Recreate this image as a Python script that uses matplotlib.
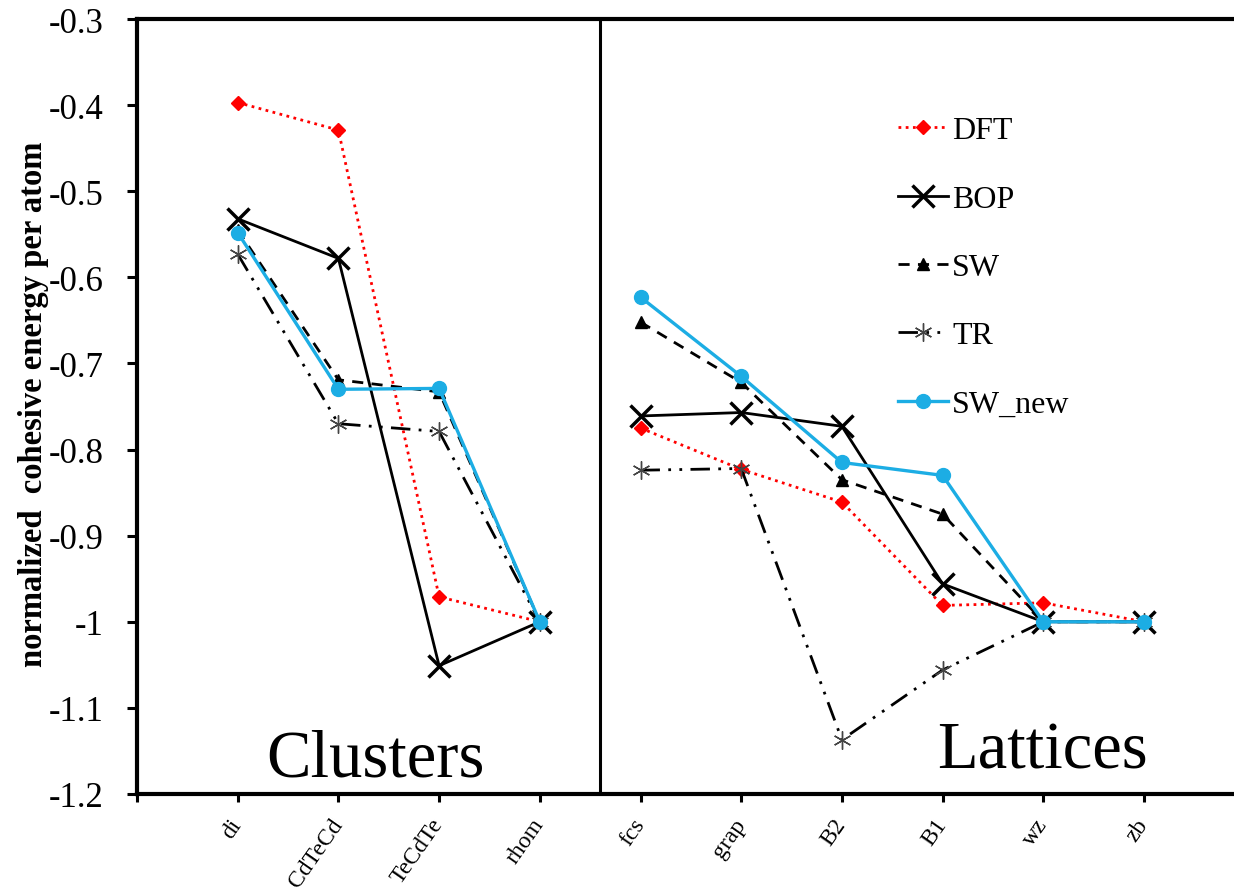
import numpy as np
import matplotlib
matplotlib.use("Agg")
import matplotlib.pyplot as plt
from matplotlib.ticker import FixedLocator, FormatStrFormatter
from matplotlib.transforms import ScaledTranslation

plt.rcParams['font.family'] = ['Liberation Serif', 'DejaVu Serif']

categories = ['di', 'CdTeCd', 'TeCdTe', 'rhom', 'fcs', 'grap', 'B2', 'B1', 'wz', 'zb']
n_clusters = 4
DFT = [-0.397, -0.429, -0.971, -1.0, -0.775, -0.823, -0.861, -0.981, -0.978, -1.0]
BOP = [-0.532, -0.578, -1.051, -1.0, -0.761, -0.757, -0.773, -0.956, -1.0, -1.0]
SW = [-0.545, -0.719, -0.733, -1.0, -0.652, -0.722, -0.835, -0.875, -1.0, -1.0]
TR = [-0.573, -0.770, -0.779, -1.0, -0.824, -0.822, -1.137, -1.056, -1.0, -1.0]
SW_new = [-0.548, -0.730, -0.729, -1.0, -0.623, -0.715, -0.815, -0.830, -1.0, -1.0]
yticks = [-1.2, -1.1, -1.0, -0.9, -0.8, -0.7, -0.6, -0.5, -0.4, -0.3]

W, H = 1234, 895
fig = plt.figure(figsize=(W / 100, H / 100), dpi=100)
ax = fig.add_axes([137 / W, 1 - 795 / H, 1 - 137 / W, (795 - 20) / H])

x = np.arange(1, len(categories) + 1)

styles = [
    ('DFT', DFT, dict(color='#FF0000', linestyle=(0, (1, 1.6)), linewidth=2.0,
                      marker='D', markersize=7, markerfacecolor='#FF0000', markeredgecolor='#FF0000')),
    ('BOP', BOP, dict(color='black', linestyle='-', linewidth=2.0,
                      marker='x', markersize=16, markeredgewidth=2.5)),
    ('SW', SW, dict(color='black', linestyle=(0, (4, 3)), linewidth=2.0,
                    marker='^', markersize=9, markerfacecolor='black', markeredgecolor='black')),
    ('TR', TR, dict(color='black', linestyle=(0, (7, 3, 1, 3, 1, 3)), linewidth=2.0,
                    marker=(6, 2, 0), markersize=13, markeredgewidth=1.0,
                    markeredgecolor='#444444')),
    ('SW_new', SW_new, dict(color='#1CADE4', linestyle='-', linewidth=2.4,
                            marker='o', markersize=10, markerfacecolor='#1CADE4',
                            markeredgecolor='#1CADE4')),
]

for label, vals, kw in styles:
    v = np.array(vals)
    ax.plot(x[:n_clusters], v[:n_clusters], label=label, **kw)
    ax.plot(x[n_clusters:], v[n_clusters:], **kw)

ax.set_xlim(0, (W - 137) / 100.7)
ax.set_ylim(-1.2, -0.3)

ax.xaxis.set_major_locator(FixedLocator(np.arange(0, 11)))
ax.set_xticklabels([''] + categories, rotation=55, rotation_mode='anchor',
                   ha='right', va='center', fontsize=17)
offset = ScaledTranslation(6 / 72, 0, fig.dpi_scale_trans)
for lbl in ax.get_xticklabels():
    lbl.set_transform(lbl.get_transform() + offset)
ax.yaxis.set_major_locator(FixedLocator(yticks))
ax.yaxis.set_major_formatter(FormatStrFormatter('%g'))
for lbl in ax.get_yticklabels():
    lbl.set_fontsize(25)

ax.tick_params(axis='y', direction='out', length=7, width=2.2, pad=17)
ax.tick_params(axis='x', direction='out', length=6, width=2.2, pad=13)

for side in ['left', 'bottom', 'top']:
    ax.spines[side].set_linewidth(3)
ax.spines['right'].set_visible(False)

ax.axvline(4.6, color='black', linewidth=2.2)

fig.text(34 / W, 1 - 404 / H, 'normalized  cohesive energy per atom', fontsize=23.5,
         fontweight='bold', rotation=90, ha='center', va='center')

ax.text(2.37, -1.178, 'Clusters', fontsize=48, ha='center', va='baseline')
ax.text(8.99, -1.169, 'Lattices', fontsize=48, ha='center', va='baseline')

leg = ax.legend(loc='upper left', bbox_to_anchor=(898 / W, 1 - 117 / H),
                bbox_transform=fig.transFigure, frameon=False, borderpad=0, borderaxespad=0,
                fontsize=23, labelspacing=1.22, handlelength=1.55, handletextpad=0.15)

fig.savefig('out.png', dpi=100)
